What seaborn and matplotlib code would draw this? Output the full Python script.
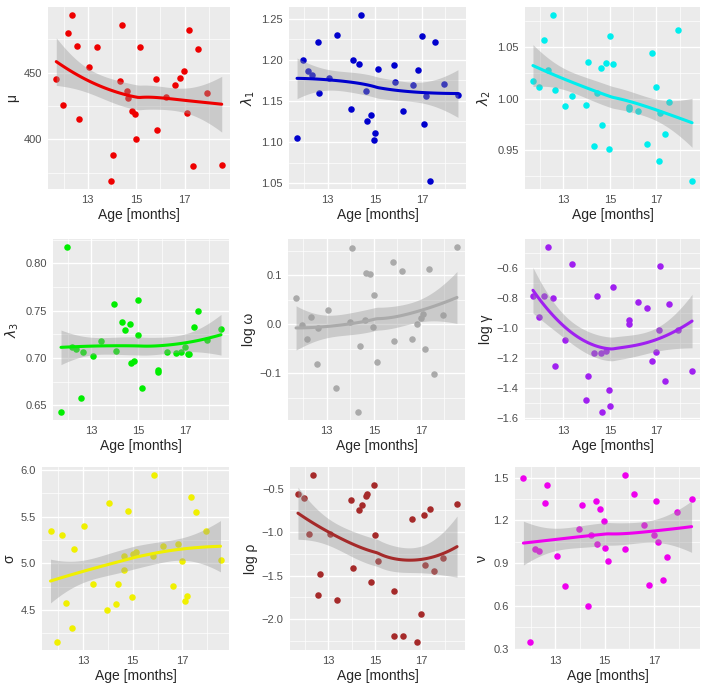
import numpy as np
import matplotlib
matplotlib.use("Agg")
import matplotlib.pyplot as plt
import seaborn as sns

# ages of the 30 animals (same for every panel)
ages = [11.70, 11.97, 12.17, 12.34, 12.57, 12.64, 13.06, 13.39, 13.97, 14.06,
        14.32, 14.43, 14.64, 14.67, 14.83, 14.97, 15.00, 15.14, 15.83, 15.84,
        16.21, 16.61, 16.82, 16.99, 17.10, 17.17, 17.36, 17.54, 17.94, 18.53]

mu = [445, 426, 480, 493, 470, 415, 454, 469, 369, 388,
      444, 486, 436, 431, 421, 419, 400, 469, 445, 407,
      432, 441, 446, 451, 420, 482, 380, 468, 435, 381]
lambda1 = [1.105, 1.200, 1.186, 1.182, 1.222, 1.160, 1.178, 1.230, 1.140, 1.200,
           1.195, 1.254, 1.162, 1.125, 1.133, 1.103, 1.111, 1.189, 1.194, 1.173,
           1.138, 1.169, 1.188, 1.229, 1.122, 1.156, 1.053, 1.221, 1.170, 1.157]
lambda2 = [1.017, 1.011, 1.057, 1.028, 1.081, 1.008, 0.993, 1.002, 0.994, 1.036,
           0.954, 1.005, 1.030, 0.974, 1.035, 0.951, 1.061, 1.034, 0.992, 0.990,
           0.988, 0.956, 1.044, 1.011, 0.939, 0.986, 0.965, 0.997, 1.067, 0.920]
lambda3 = [0.643, 0.817, 0.711, 0.709, 0.658, 0.706, 0.702, 0.718, 0.757, 0.707,
           0.738, 0.730, 0.736, 0.695, 0.697, 0.761, 0.724, 0.668, 0.687, 0.685,
           0.706, 0.705, 0.706, 0.712, 0.704, 0.704, 0.733, 0.750, 0.719, 0.731]
log_omega = [0.053, -0.001, -0.031, 0.015, -0.082, -0.008, 0.029, -0.131, 0.004, 0.155,
             -0.179, -0.045, 0.009, 0.104, 0.103, -0.006, 0.060, -0.078, 0.126, -0.035,
             0.109, -0.031, 0.001, 0.013, 0.021, -0.050, 0.113, -0.102, 0.018, 0.157]
log_gamma = [-0.787, -0.922, -0.783, -0.459, -0.800, -1.250, -1.076, -0.570, -1.480, -1.317,
             -1.165, -0.787, -1.163, -1.556, -1.152, -1.411, -1.520, -0.726, -0.946, -0.974,
             -0.822, -0.863, -1.217, -1.157, -1.010, -0.585, -1.352, -0.837, -1.011, -1.287]
sigma = [5.344, 4.161, 5.301, 4.574, 4.307, 5.155, 5.405, 4.781, 4.500, 5.644,
         4.564, 4.781, 4.924, 5.077, 5.565, 4.635, 5.095, 5.123, 5.084, 5.943,
         5.187, 4.753, 5.202, 5.027, 4.599, 4.646, 5.711, 5.551, 5.351, 5.034]
log_rho = [-0.565, -0.611, -1.023, -0.347, -1.721, -1.477, -1.019, -1.775, -0.626, -1.412,
           -0.744, -0.691, -0.584, -0.561, -1.576, -0.462, -1.031, -1.328, -1.672, -2.198,
           -2.198, -0.855, -2.260, -1.943, -0.802, -1.378, -0.740, -1.450, -1.298, -0.679]
nu = [1.500, 0.349, 0.998, 0.986, 1.325, 1.446, 0.951, 0.737, 1.138, 1.306,
      0.596, 1.094, 1.339, 1.033, 1.278, 1.199, 1.003, 0.916, 1.516, 0.998,
      1.388, 1.171, 0.744, 1.098, 1.337, 1.045, 0.783, 0.940, 1.262, 1.351]

x_ticks = [13, 15, 17]
y_ticks = {
    "mu": ["400", "450"],
    "lambda1": ["1.05", "1.10", "1.15", "1.20", "1.25"],
    "lambda2": ["0.95", "1.00", "1.05"],
    "lambda3": ["0.65", "0.70", "0.75", "0.80"],
    "log_omega": ["-0.1", "0.0", "0.1"],
    "log_gamma": ["-1.6", "-1.4", "-1.2", "-1.0", "-0.8", "-0.6"],
    "sigma": ["4.5", "5.0", "5.5", "6.0"],
    "log_rho": ["-2.0", "-1.5", "-1.0", "-0.5"],
    "nu": ["0.3", "0.6", "0.9", "1.2", "1.5"],
}


def loess(x, y, grid, span=1.5, mult=1.05):
    # local quadratic fit with tricube weights + standard error band
    x = np.asarray(x, float)
    y = np.asarray(y, float)
    n = len(x)
    q = min(int(np.floor(n * span)), n)

    def row(x0):
        d = np.abs(x - x0)
        h = np.sort(d)[q - 1] * max(span, 1.0)
        w = (1 - np.clip(d / h, 0, 1) ** 3) ** 3
        X = np.column_stack([np.ones(n), x - x0, (x - x0) ** 2])
        XtW = X.T * w
        return np.linalg.solve(XtW @ X, XtW)[0]

    L = np.array([row(v) for v in x])
    Lg = np.array([row(v) for v in grid])
    R = np.eye(n) - L
    s = np.sqrt(np.sum((R @ y) ** 2) / np.trace(R.T @ R))
    fit = Lg @ y
    se = s * np.sqrt(np.sum(Lg ** 2, axis=1))
    return fit, fit - mult * se, fit + mult * se


sns.set_theme(style="darkgrid", rc={
    "axes.facecolor": "#EBEBEB",
    "grid.color": "white",
    "axes.edgecolor": "#EBEBEB",
    "xtick.color": "#333333",
    "ytick.color": "#333333",
    "xtick.labelcolor": "#4D4D4D",
    "ytick.labelcolor": "#4D4D4D",
})
plt.rcParams["font.family"] = ["Liberation Sans", "DejaVu Sans"]

W, H = 709, 688
fig = plt.figure(figsize=(W / 100, H / 100), dpi=100)

panels = [
    (mu, "mu", "μ", "#EE0000"),
    (lambda1, "lambda1", r"$\lambda_1$", "#0000CD"),
    (lambda2, "lambda2", r"$\lambda_2$", "#00EEEE"),
    (lambda3, "lambda3", r"$\lambda_3$", "#00EE00"),
    (log_omega, "log_omega", "log ω", "#AAAAAA"),
    (log_gamma, "log_gamma", "log γ", "#A020F0"),
    (sigma, "sigma", "σ", "#F0F000"),
    (log_rho, "log_rho", "log ρ", "#A52A2A"),
    (nu, "nu", "ν", "#EE00EE"),
]

# panel boxes in pixels: left, right, top, bottom
boxes = [
    (48, 230, 7, 189), (289, 466, 7, 189), (525, 700, 7, 189),
    (53, 229, 239, 420), (288, 465, 239, 420), (525, 700, 239, 420),
    (42, 229, 467, 650), (290, 465, 467, 650), (515, 700, 467, 650),
]

grid_x = np.linspace(min(ages), max(ages), 80)

for (vals, key, label, color), (l, r, t, b) in zip(panels, boxes):
    ax = fig.add_axes([l / W, 1 - b / H, (r - l) / W, (b - t) / H])
    sns.scatterplot(x=ages, y=vals, color=color, s=22, linewidth=0, ax=ax, zorder=2)
    fit, lo, hi = loess(ages, vals, grid_x)
    ax.fill_between(grid_x, lo, hi, color="#999999", alpha=0.4, linewidth=0, zorder=3)
    ax.plot(grid_x, fit, color=color, lw=2.2, zorder=4)

    x0, x1 = ax.get_xlim()
    y0, y1 = ax.get_ylim()
    yt = [float(v) for v in y_ticks[key]]
    step = yt[1] - yt[0]
    ax.set_xticks(x_ticks)
    ax.set_xticks([12, 14, 16, 18], minor=True)
    ax.set_yticks(yt, labels=[v.replace("-", "\u2212") for v in y_ticks[key]])
    ax.set_yticks(np.arange(yt[0] - step / 2, yt[-1] + step, step), minor=True)
    ax.set_xlim(x0, x1)
    ax.set_ylim(y0, y1)

    ax.grid(which="major", color="white", lw=1.0)
    ax.grid(which="minor", color="white", lw=0.5)
    ax.tick_params(which="major", length=3, width=0.8, labelsize=8, pad=1.5)
    ax.tick_params(which="minor", length=0)
    for sp in ax.spines.values():
        sp.set_visible(False)
    ax.set_xlabel("Age [months]", fontsize=10, labelpad=2)
    ax.set_ylabel(label, fontsize=10, labelpad=3)

fig.savefig("out.png", dpi=100)
